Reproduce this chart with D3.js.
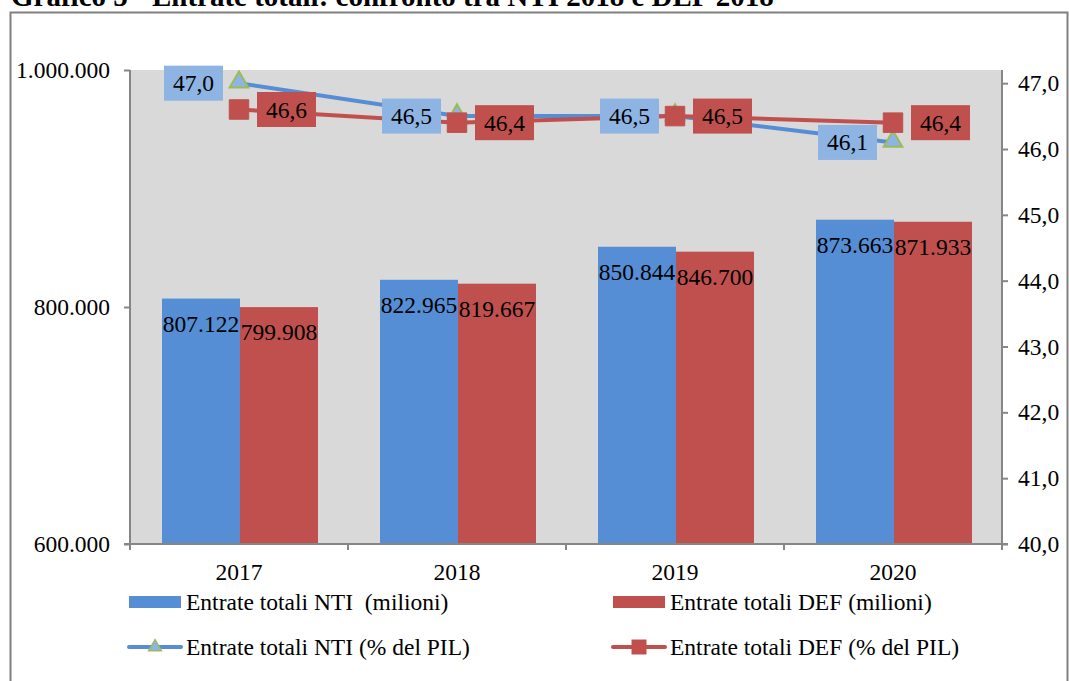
<!DOCTYPE html>
<html>
<head>
<meta charset="utf-8">
<script src="https://cdn.jsdelivr.net/npm/d3@7"></script>
<style>
  body { margin: 0; background: #fff; }
  svg text { font-family: "Liberation Serif", "Times New Roman", serif; fill: #000; white-space: pre; }
</style>
</head>
<body>
<div id="chart"></div>
<script>
// dati
const years      = ["2017", "2018", "2019", "2020"];
const ntiMilioni = [807122, 822965, 850844, 873663];
const defMilioni = [799908, 819667, 846700, 871933];
const ntiPil     = [47.0, 46.5, 46.5, 46.1];
const defPil     = [46.6, 46.4, 46.5, 46.4];
const leftTicks  = [600000, 800000, 1000000];
const rightTicks = [40, 41, 42, 43, 44, 45, 46, 47];
const legendLabels = [
  "Entrate totali NTI  (milioni)",
  "Entrate totali DEF (milioni)",
  "Entrate totali NTI (% del PIL)",
  "Entrate totali DEF (% del PIL)"
];

const W = 1069, H = 681;
const plot = { left: 130, right: 1002, top: 70, bottom: 544 };
const fs = 23.5;

const blue = "#558ED5", red = "#C0504D", lightBlue = "#8DB4E2", green = "#9BBB59";
const axisCol = "#868686";

// locale italiano
const it = d3.formatLocale({ decimal: ",", thousands: ".", grouping: [3], currency: ["€", ""] });
const fmtInt = it.format(",d");
const fmtPct = it.format(",.1f");

const svg = d3.select("#chart").append("svg")
  .attr("width", W).attr("height", H);

// cornice + titolo
svg.append("rect")
  .attr("x", 10.5).attr("y", 12.5)
  .attr("width", 1057).attr("height", 720)
  .attr("fill", "none").attr("stroke", "#808080").attr("stroke-width", 2);

svg.append("text")
  .attr("x", 11).attr("y", 6)
  .attr("font-size", 29).attr("font-weight", "bold")
  .text("Grafico 5 - Entrate totali: confronto tra NTI 2018 e DEF 2018");

// scale
const x = d3.scaleBand().domain(years).range([plot.left, plot.right]).padding(0);
const xs = d3.scaleBand().domain(["nti", "def"]).range([32, 188]).padding(0);
const yL = d3.scaleLinear().domain([600000, 1000000]).range([plot.bottom, plot.top]);
const yR = d3.scaleLinear().domain([40, 47.2]).range([plot.bottom, plot.top]);

// sfondo area grafico
svg.append("rect")
  .attr("x", plot.left).attr("y", plot.top)
  .attr("width", plot.right - plot.left).attr("height", plot.bottom - plot.top)
  .attr("fill", "#D9D9D9");

// barre
const barData = years.map((y, i) => ({ year: y, nti: ntiMilioni[i], def: defMilioni[i] }));
const groups = svg.append("g").selectAll("g")
  .data(barData).enter().append("g")
  .attr("transform", d => `translate(${x(d.year)},0)`);

groups.selectAll("rect")
  .data(d => [{ k: "nti", v: d.nti }, { k: "def", v: d.def }])
  .enter().append("rect")
  .attr("x", d => xs(d.k))
  .attr("y", d => yL(d.v))
  .attr("width", xs.bandwidth())
  .attr("height", d => plot.bottom - yL(d.v))
  .attr("fill", d => d.k === "nti" ? blue : red);

groups.selectAll("text")
  .data(d => [{ k: "nti", v: d.nti }, { k: "def", v: d.def }])
  .enter().append("text")
  .attr("x", d => xs(d.k) + xs.bandwidth() / 2)
  .attr("y", d => yL(d.v) + 33)
  .attr("text-anchor", "middle")
  .attr("font-size", fs)
  .text(d => fmtInt(d.v));

// assi
const axL = svg.append("g")
  .attr("transform", `translate(${plot.left},0)`)
  .call(d3.axisLeft(yL).tickValues(leftTicks).tickSize(6).tickSizeOuter(0).tickPadding(14).tickFormat(fmtInt));
const axR = svg.append("g")
  .attr("transform", `translate(${plot.right},0)`)
  .call(d3.axisRight(yR).tickValues(rightTicks).tickSize(6).tickSizeOuter(0).tickPadding(10).tickFormat(fmtPct));
const axB = svg.append("g")
  .attr("transform", `translate(0,${plot.bottom})`)
  .call(d3.axisBottom(x).tickSize(0).tickPadding(19));

[axL, axR, axB].forEach(a => {
  a.select(".domain").remove();
  a.selectAll("line").attr("stroke", axisCol).attr("stroke-width", 2);
  a.selectAll("text").attr("font-size", fs).attr("fill", "#000");
});

// linee assi
svg.append("line").attr("x1", plot.left).attr("x2", plot.left)
  .attr("y1", plot.top).attr("y2", plot.bottom + 6).attr("stroke", axisCol).attr("stroke-width", 2);
svg.append("line").attr("x1", plot.right).attr("x2", plot.right)
  .attr("y1", plot.top).attr("y2", plot.bottom + 6).attr("stroke", axisCol).attr("stroke-width", 2);
svg.append("line").attr("x1", plot.left - 6).attr("x2", plot.right + 6)
  .attr("y1", plot.bottom).attr("y2", plot.bottom).attr("stroke", axisCol).attr("stroke-width", 2);
svg.append("g").selectAll("line")
  .data(years.map(y => x(y)).concat([plot.right]))
  .enter().append("line")
  .attr("x1", d => d).attr("x2", d => d)
  .attr("y1", plot.bottom).attr("y2", plot.bottom + 6)
  .attr("stroke", axisCol).attr("stroke-width", 2);

// linee % PIL
const cx = y => x(y) + x.bandwidth() / 2;
const line = d3.line().x(d => cx(d.year)).y(d => yR(d.v));
const ntiPts = years.map((y, i) => ({ year: y, v: ntiPil[i] }));
const defPts = years.map((y, i) => ({ year: y, v: defPil[i] }));

const tri = d3.symbol().type(d3.symbolTriangle).size(150);
const sq = d3.symbol().type(d3.symbolSquare).size(380);

svg.append("path").datum(ntiPts)
  .attr("d", line).attr("fill", "none").attr("stroke", blue).attr("stroke-width", 4);
svg.append("g").selectAll("path").data(ntiPts).enter().append("path")
  .attr("d", tri)
  .attr("transform", d => `translate(${cx(d.year)},${yR(d.v) - 1})`)
  .attr("fill", lightBlue).attr("stroke", green).attr("stroke-width", 2);

svg.append("path").datum(defPts)
  .attr("d", line).attr("fill", "none").attr("stroke", red).attr("stroke-width", 4);
svg.append("g").selectAll("path").data(defPts).enter().append("path")
  .attr("d", sq)
  .attr("transform", d => `translate(${cx(d.year)},${yR(d.v)})`)
  .attr("fill", red).attr("stroke", red).attr("stroke-width", 1).attr("stroke-linejoin", "round");

// etichette linee
const boxW = 59, boxH = 35;
function lineLabels(pts, fill, side) {
  const g = svg.append("g").selectAll("g").data(pts).enter().append("g")
    .attr("transform", d => {
      const bx = side < 0 ? cx(d.year) - 16 - boxW : cx(d.year) + 18;
      return `translate(${bx},${yR(d.v) - boxH / 2})`;
    });
  g.append("rect").attr("width", boxW).attr("height", boxH).attr("fill", fill);
  g.append("text")
    .attr("x", boxW / 2).attr("y", boxH / 2 + 8)
    .attr("text-anchor", "middle").attr("font-size", fs)
    .text(d => fmtPct(d.v));
}
lineLabels(ntiPts, lightBlue, -1);
lineLabels(defPts, red, 1);

// legenda
const leg = svg.append("g");
const legX = [129, 613], legY = [602, 647];
// barre
[[blue, 0], [red, 1]].forEach(([c, i]) => {
  leg.append("rect").attr("x", legX[i]).attr("y", legY[0] - 6)
    .attr("width", 52).attr("height", 12).attr("fill", c);
  leg.append("text").attr("x", legX[i] + 57).attr("y", legY[0] + 8)
    .attr("font-size", fs).text(legendLabels[i]);
});
// linee
leg.append("line").attr("x1", legX[0]).attr("x2", legX[0] + 52)
  .attr("y1", legY[1]).attr("y2", legY[1])
  .attr("stroke", blue).attr("stroke-width", 4).attr("stroke-linecap", "round");
leg.append("path").attr("d", d3.symbol().type(d3.symbolTriangle).size(70))
  .attr("transform", `translate(${legX[0] + 26},${legY[1]})`)
  .attr("fill", lightBlue).attr("stroke", green).attr("stroke-width", 1.5);
leg.append("text").attr("x", legX[0] + 57).attr("y", legY[1] + 8)
  .attr("font-size", fs).text(legendLabels[2]);

leg.append("line").attr("x1", legX[1]).attr("x2", legX[1] + 52)
  .attr("y1", legY[1]).attr("y2", legY[1])
  .attr("stroke", red).attr("stroke-width", 4).attr("stroke-linecap", "round");
leg.append("path").attr("d", d3.symbol().type(d3.symbolSquare).size(225))
  .attr("transform", `translate(${legX[1] + 26},${legY[1]})`)
  .attr("fill", red);
leg.append("text").attr("x", legX[1] + 57).attr("y", legY[1] + 8)
  .attr("font-size", fs).text(legendLabels[3]);
</script>
</body>
</html>
